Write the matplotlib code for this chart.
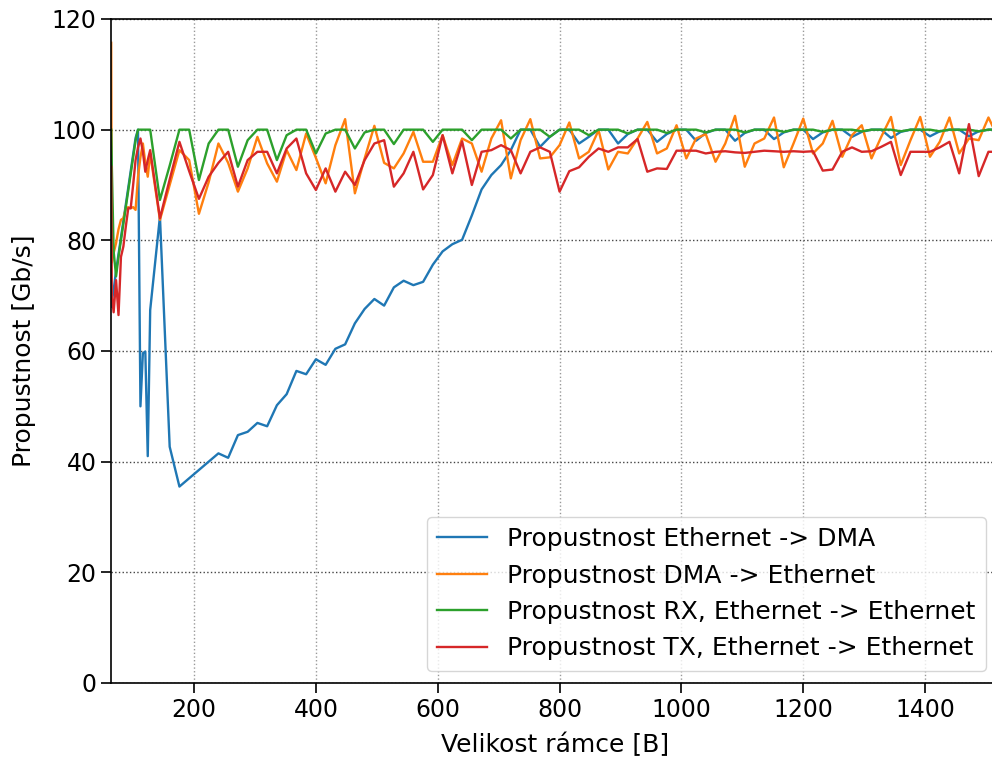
import matplotlib
matplotlib.use("Agg")
import matplotlib.pyplot as plt

# frame sizes [B]: fine steps below 128 B, then every 16 B
frame_size = [64, 65, 68, 72, 76, 80, 84, 88, 92, 96, 100, 104, 108, 112, 116, 120, 124] \
    + list(range(128, 1521, 16))

eth_dma = [68.0, 69.0, 71.0, 74.5, 77.5, 80.5, 83.5, 86.5, 89.5, 92.5, 95.5, 98.5, 100.0, 50.0, 59.6, 59.9, 41.0,
           67.4, 84.3, 42.7, 35.5, 37.0, 38.5, 40.0, 41.5, 40.7, 44.8,
           45.4, 47.0, 46.4, 50.2, 52.2, 56.4, 55.8, 58.5, 57.5, 60.4,
           61.2, 65.0, 67.6, 69.4, 68.2, 71.5, 72.7, 71.9, 72.5, 75.6,
           78.0, 79.3, 80.1, 84.5, 89.2, 91.8, 93.6, 96.3, 100.0, 100.0,
           96.9, 98.7, 100.0, 100.0, 97.5, 98.7, 100.0, 100.0, 97.5, 99.2,
           100.0, 100.0, 97.8, 99.2, 100.0, 100.0, 98.0, 99.4, 100.0, 100.0,
           98.0, 99.4, 100.0, 100.0, 98.3, 99.5, 100.0, 100.0, 98.3, 99.5,
           100.0, 100.0, 98.7, 99.6, 100.0, 100.0, 98.5, 99.6, 100.0, 100.0,
           98.8, 99.7, 100.0, 100.0, 98.8, 99.7, 100.0, 100.0]

dma_eth = [115.7, 76.0, 77.7, 79.5, 82.0, 83.7, 84.0, 85.8, 86.0, 85.8, 86.0, 85.5, 91.5, 95.0, 97.5, 94.0, 91.5,
           95.7, 83.7, 90.0, 96.3, 94.5, 84.8, 90.5, 97.5, 94.0, 88.8,
           93.0, 98.7, 93.9, 90.6, 96.3, 92.7, 99.3, 94.9, 90.3, 97.2,
           101.9, 88.5, 94.8, 100.7, 94.0, 93.0, 95.7, 99.6, 94.2, 94.2,
           99.0, 93.6, 98.4, 97.5, 92.4, 98.4, 101.7, 91.2, 98.1, 101.9,
           94.8, 95.0, 97.2, 101.3, 94.8, 96.0, 99.9, 92.8, 96.0, 95.7,
           98.4, 101.4, 95.7, 96.6, 100.8, 94.8, 98.4, 99.2, 94.2, 97.5,
           102.5, 93.3, 97.5, 98.4, 102.2, 93.2, 97.5, 102.0, 95.7, 97.5,
           101.6, 95.1, 99.0, 100.8, 94.8, 98.7, 102.3, 93.6, 98.1, 102.3,
           95.1, 97.8, 102.2, 95.7, 98.4, 98.1, 102.2, 98.5]

rx_eth = [100.0, 93.6, 78.0, 73.5, 77.0, 80.0, 83.0, 86.0, 89.0, 92.0, 95.0, 98.0, 100.0, 100.0, 100.0, 100.0, 100.0,
          100.0, 87.3, 93.5, 100.0, 100.0, 90.9, 97.5, 100.0, 100.0, 93.3,
          98.1, 100.0, 100.0, 94.5, 99.0, 100.0, 100.0, 95.7, 99.3, 100.0,
          100.0, 96.6, 99.5, 100.0, 100.0, 97.4, 100.0, 100.0, 100.0, 97.8,
          100.0, 100.0, 100.0, 98.1, 100.0, 100.0, 100.0, 98.4, 100.0, 100.0,
          100.0, 98.7, 100.0, 100.0, 100.0, 99.0, 100.0, 100.0, 100.0, 99.3,
          100.0, 100.0, 100.0, 99.4, 100.0, 100.0, 100.0, 99.5, 100.0, 100.0,
          100.0, 99.5, 100.0, 100.0, 100.0, 99.6, 100.0, 100.0, 100.0, 99.6,
          100.0, 100.0, 100.0, 99.7, 100.0, 100.0, 100.0, 99.7, 100.0, 100.0,
          100.0, 99.7, 100.0, 100.0, 100.0, 99.7, 100.0, 100.0]

tx_eth = [93.3, 70.0, 67.0, 72.8, 66.5, 77.0, 78.9, 82.5, 85.8, 85.8, 90.0, 94.5, 96.8, 98.4, 96.0, 92.4, 94.5,
          96.3, 84.0, 91.0, 97.8, 92.5, 87.5, 91.5, 94.0, 96.0, 89.7,
          94.5, 96.0, 96.0, 92.1, 96.6, 98.4, 92.1, 89.1, 93.0, 88.8,
          92.4, 90.0, 94.5, 97.5, 98.1, 89.7, 92.1, 96.0, 89.2, 91.8,
          99.0, 92.1, 97.9, 90.0, 96.0, 96.3, 97.2, 96.3, 92.1, 96.0,
          96.8, 96.0, 88.8, 92.5, 93.2, 95.1, 96.6, 96.0, 96.8, 96.8,
          98.3, 92.4, 93.0, 92.9, 96.2, 96.2, 96.2, 95.7, 96.0, 96.1,
          95.9, 95.8, 96.0, 96.2, 96.1, 96.0, 96.1, 96.0, 96.1, 92.6,
          92.8, 96.0, 96.8, 96.0, 96.1, 96.9, 97.8, 91.8, 96.0, 96.0,
          96.0, 96.8, 97.8, 92.1, 101.0, 91.6, 96.0, 96.0]

labels = ["Propustnost Ethernet -> DMA",
          "Propustnost DMA -> Ethernet",
          "Propustnost RX, Ethernet -> Ethernet",
          "Propustnost TX, Ethernet -> Ethernet"]

fig = plt.figure(figsize=(9.92, 7.58), dpi=100)
# right edge of the axes sits just past the figure border
ax = fig.add_axes([111.2 / 992, 75 / 758, (998.2 - 111.2) / 992, 664 / 758])

for series, lab in zip([eth_dma, dma_eth, rx_eth, tx_eth], labels):
    ax.plot(frame_size, series, label=lab, linewidth=1.7)

ax.set_xlim(64, 1520)
ax.set_ylim(0, 120)
ax.set_xticks([200, 400, 600, 800, 1000, 1200, 1400])
ax.set_yticks([0, 20, 40, 60, 80, 100, 120])
ax.grid(True, axis='x', linestyle=':', color='#999999', linewidth=1.0)
ax.grid(True, axis='y', linestyle=':', color='#444444', linewidth=1.0)
ax.tick_params(labelsize=17, length=7, width=1.2)
for sp in ax.spines.values():
    sp.set_linewidth(1.2)

ax.set_xlabel("Velikost rámce [B]", fontsize=18, labelpad=8)
ax.set_ylabel("Propustnost [Gb/s]", fontsize=18, labelpad=11)
ax.legend(loc='lower right', fontsize=18, handlelength=2.0)

fig.savefig("out.png", dpi=100)
